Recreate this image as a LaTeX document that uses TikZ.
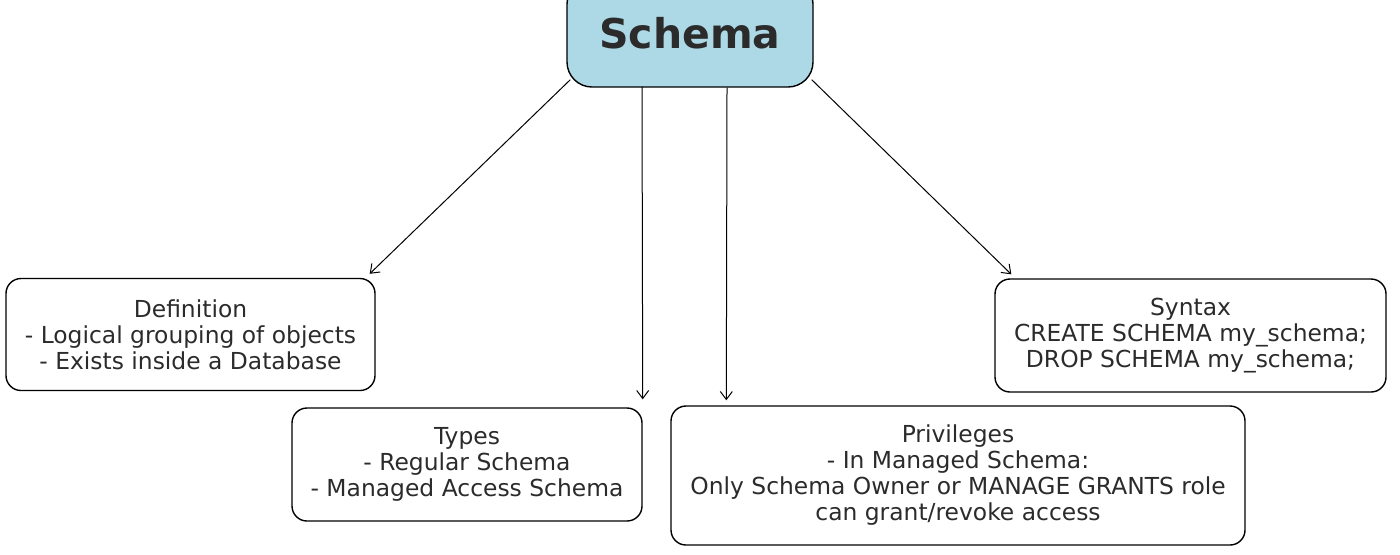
\documentclass[tikz,border=0pt]{standalone}
\usepackage{fontspec}
\setmainfont{DejaVu Sans}
\usetikzlibrary{arrows.meta}
\definecolor{schemablue}{HTML}{ADD8E6}
\definecolor{txtgray}{HTML}{2B2B2B}
\tikzset{
  box/.style={draw=black, line width=0.7pt, rounded corners=7.5pt, text=txtgray,
    align=center, inner sep=0pt, font=\fontsize{11.7}{13}\selectfont},
  arr/.style={-{Straight Barb[length=4pt,width=6pt]}, line width=0.5pt}
}
\begin{document}
\begin{tikzpicture}[x=0.5pt, y=-0.5pt]
  \useasboundingbox (0,0) rectangle (1400,554);
  % top box, cut by the page edge
  \node[box, fill=schemablue, rounded corners=12.5pt, minimum width=123pt, minimum height=54pt,
    font=\bfseries\fontsize{20.5}{24}\selectfont, text=txtgray] (schema) at (690,33) {Schema};
  % the four boxes below
  \node[box, minimum width=184.5pt, minimum height=56pt] (defn) at (190.5,334.5)
    {Definition\\- Logical grouping of objects\\- Exists inside a Database};
  \node[box, minimum width=175pt, minimum height=56.5pt] (types) at (467,464.5)
    {Types\\- Regular Schema\\- Managed Access Schema};
  \node[box, minimum width=287pt, minimum height=69.5pt] (privs) at (958,475.5)
    {Privileges\\- In Managed Schema:\\Only Schema Owner or MANAGE GRANTS role\\can grant/revoke access};
  \node[box, minimum width=195.5pt, minimum height=56.5pt] (syntax) at (1190.5,335.5)
    {Syntax\\CREATE SCHEMA my\_schema;\\DROP SCHEMA my\_schema;};
  % arrow ends
  \coordinate (s1) at ([shift={(4,-8)}]schema.south west);
  \coordinate (s2) at ([shift={(-48,-1)}]schema.south);
  \coordinate (s3) at ([shift={(37,0)}]schema.south);
  \coordinate (s4) at ([shift={(-2,-8)}]schema.south east);
  \coordinate (e1) at ([shift={(-6,-4)}]defn.north east);
  \coordinate (e2) at ([shift={(0,-8)}]types.north east);
  \coordinate (e3) at ([shift={(56,-5)}]privs.north west);
  \coordinate (e4) at ([shift={(17,-4)}]syntax.north west);
  \draw[arr] (s1) -- (e1);
  \draw[arr] (s2) -- (e2);
  \draw[arr] (s3) -- (e3);
  \draw[arr] (s4) -- (e4);
\end{tikzpicture}
\end{document}
